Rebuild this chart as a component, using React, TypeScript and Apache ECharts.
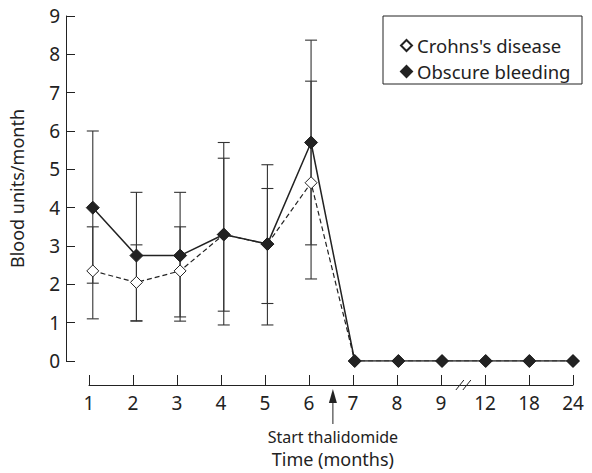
import React, { useEffect, useRef } from "react";
import * as echarts from "echarts";

const months = ["1", "2", "3", "4", "5", "6", "7", "8", "9", "12", "18", "24"];
const crohns = [2.35, 2.05, 2.35, 3.3, 3.05, 4.65, 0, 0, 0, 0, 0, 0];
const obscure = [4.0, 2.75, 2.75, 3.3, 3.05, 5.7, 0, 0, 0, 0, 0, 0];
const crohnsLow = [1.1, 1.05, 1.15, 1.3, 1.5, 2.14];
const crohnsHigh = [3.5, 3.03, 3.5, 5.29, 4.5, 7.3];
const obscureLow = [2.03, 1.04, 1.04, 0.94, 0.94, 3.03];
const obscureHigh = [6.0, 4.4, 4.4, 5.7, 5.12, 8.37];
const yTicks = [0, 9, 1];

const FONT = "Noto Sans";

export default function App() {
  const ref = useRef<HTMLDivElement>(null);
  useEffect(() => {
    if (!ref.current) return;
    const chart = echarts.init(ref.current, null, { renderer: "svg" });
    const errStyle = { stroke: "#333", lineWidth: 1.1 };
    const renderErr = (params: any, api: any) => {
      const x = api.value(0);
      const lo = api.coord([x, api.value(1)]);
      const hi = api.coord([x, api.value(2)]);
      const w = 6;
      return {
        type: "group",
        children: [
          { type: "line", shape: { x1: lo[0], y1: lo[1], x2: hi[0], y2: hi[1] }, style: errStyle },
          { type: "line", shape: { x1: lo[0] - w, y1: lo[1], x2: lo[0] + w, y2: lo[1] }, style: errStyle },
          { type: "line", shape: { x1: hi[0] - w, y1: hi[1], x2: hi[0] + w, y2: hi[1] }, style: errStyle },
        ],
      };
    };
    const option: any = {
      animation: false,
      textStyle: { fontFamily: FONT, color: "#222" },
      grid: [
        { left: 62, right: 19, top: 16, bottom: 112 },
        { left: 89, right: 19, top: 384, height: 1 },
      ],
      xAxis: [
        { type: "value", gridIndex: 0, min: -27 / 44, max: 11, show: false },
        {
          type: "category",
          gridIndex: 1,
          data: months,
          boundaryGap: false,
          axisLine: { lineStyle: { color: "#222", width: 1 } },
          axisTick: { inside: true, length: 10, lineStyle: { color: "#222" } },
          axisLabel: { fontSize: 19, margin: 8, color: "#222", fontFamily: FONT },
          splitLine: { show: false },
        },
      ],
      yAxis: [
        {
          type: "value",
          gridIndex: 0,
          min: yTicks[0],
          max: yTicks[1],
          interval: yTicks[2],
          name: "Blood units/month",
          nameLocation: "middle",
          nameGap: 40,
          nameRotate: 90,
          nameTextStyle: { fontSize: 18, color: "#222", fontFamily: FONT },
          axisLine: { show: true, onZero: false, lineStyle: { color: "#222", width: 1 } },
          axisTick: { show: true, inside: true, length: 9, lineStyle: { color: "#222" } },
          axisLabel: { fontSize: 19, margin: 6, color: "#222", fontFamily: FONT },
          splitLine: { show: false },
        },
        { type: "value", gridIndex: 1, show: false },
      ],
      legend: {
        data: ["Crohns's disease", "Obscure bleeding"],
        orient: "vertical",
        left: 395,
        top: 31,
        icon: "diamond",
        itemWidth: 11,
        itemHeight: 11,
        itemGap: 7,
        textStyle: { fontSize: 18.5, color: "#222", fontFamily: FONT },
      },
      series: [
        {
          name: "crohnsErr",
          type: "custom",
          xAxisIndex: 0,
          yAxisIndex: 0,
          renderItem: renderErr,
          encode: { x: 0, y: [1, 2] },
          data: crohnsLow.map((v, i) => [i, v, crohnsHigh[i]]),
          z: 1,
        },
        {
          name: "obscureErr",
          type: "custom",
          xAxisIndex: 0,
          yAxisIndex: 0,
          renderItem: renderErr,
          encode: { x: 0, y: [1, 2] },
          data: obscureLow.map((v, i) => [i, v, obscureHigh[i]]),
          z: 1,
        },
        {
          name: "Crohns's disease",
          type: "line",
          xAxisIndex: 0,
          yAxisIndex: 0,
          data: crohns.map((v, i) => [i, v]),
          symbol: "diamond",
          symbolSize: 12,
          showAllSymbol: true,
          lineStyle: { color: "#222", width: 1.2, type: [5, 3] },
          itemStyle: { color: "#fff", borderColor: "#222", borderWidth: 1 },
          z: 3,
        },
        {
          name: "Obscure bleeding",
          type: "line",
          xAxisIndex: 0,
          yAxisIndex: 0,
          data: obscure.map((v, i) => [i, v]),
          symbol: "diamond",
          symbolSize: 13,
          showAllSymbol: true,
          lineStyle: { color: "#222", width: 1.5 },
          itemStyle: { color: "#222", borderColor: "#222", borderWidth: 1 },
          z: 4,
        },
      ],
    };
    chart.setOption(option);
    const ax = chart.convertToPixel({ xAxisIndex: 0 }, 5.5) as number;
    const bx = chart.convertToPixel({ xAxisIndex: 0 }, 8.5) as number;
    chart.setOption({
      graphic: [
        {
          type: "rect",
          shape: { x: 383, y: 16, width: 199, height: 68 },
          style: { fill: "none", stroke: "#222", lineWidth: 1 },
          silent: true,
        },
        {
          type: "line",
          shape: { x1: ax, y1: 400, x2: ax, y2: 424 },
          style: { stroke: "#222", lineWidth: 1 },
        },
        {
          type: "polygon",
          shape: { points: [[ax, 389], [ax - 4, 403], [ax + 4, 403]] },
          style: { fill: "#222" },
        },
        {
          type: "text",
          x: ax,
          y: 437,
          style: { text: "Start thalidomide", fontSize: 16, fontFamily: FONT, fill: "#222", align: "center", verticalAlign: "middle" },
        },
        {
          type: "text",
          x: ax,
          y: 459,
          style: { text: "Time (months)", fontSize: 18, fontFamily: FONT, fill: "#222", align: "center", verticalAlign: "middle" },
        },
        {
          type: "rect",
          shape: { x: bx - 2, y: 383, width: 6, height: 4 },
          style: { fill: "#fff" },
        },
        {
          type: "line",
          shape: { x1: bx - 8, y1: 390, x2: bx, y2: 380 },
          style: { stroke: "#222", lineWidth: 1 },
        },
        {
          type: "line",
          shape: { x1: bx - 1, y1: 390, x2: bx + 7, y2: 380 },
          style: { stroke: "#222", lineWidth: 1 },
        },
      ],
    });
    return () => chart.dispose();
  }, []);
  return (
    <div
      ref={ref}
      style={{ position: "fixed", left: 0, top: 0, width: 592, height: 473, background: "#fff" }}
    />
  );
}
